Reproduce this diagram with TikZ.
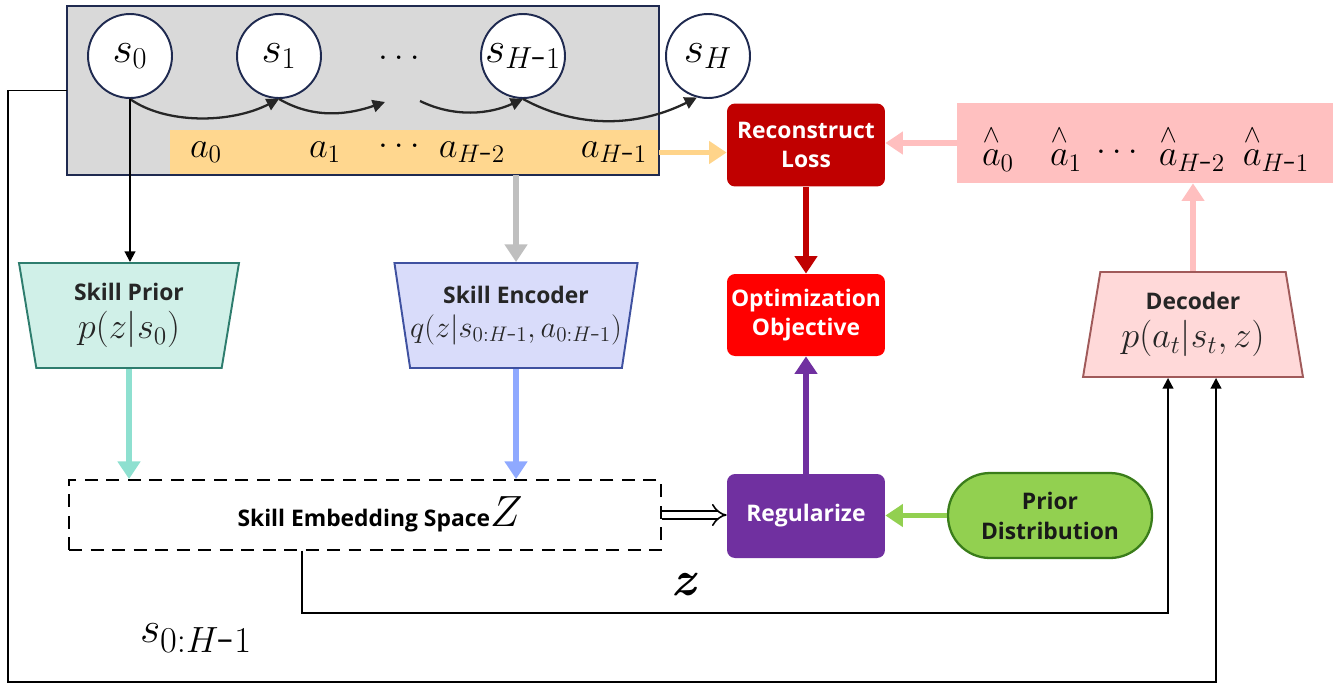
\documentclass[tikz,border=0pt]{standalone}
\usepackage{fontspec}
\setsansfont{Open Sans}
\usepackage{amsmath}
\usetikzlibrary{arrows.meta,shapes.geometric,calc}
\definecolor{navy}{HTML}{1F2A50}
\definecolor{grayfill}{HTML}{D9D9D9}
\definecolor{orng}{HTML}{FFD78F}
\definecolor{orngA}{HTML}{FFD48A}
\definecolor{rlred}{HTML}{C00000}
\definecolor{oored}{HTML}{FF0000}
\definecolor{purp}{HTML}{7030A0}
\definecolor{grn}{HTML}{92D050}
\definecolor{grnD}{HTML}{3A7D1A}
\definecolor{pinkbox}{HTML}{FFC0C0}
\definecolor{pinkA}{HTML}{FFBFBF}
\definecolor{decfill}{HTML}{FFD9D9}
\definecolor{decdraw}{HTML}{A05A5A}
\definecolor{spfill}{HTML}{D0F0E8}
\definecolor{spdraw}{HTML}{2E7D6E}
\definecolor{spA}{HTML}{8EE0D0}
\definecolor{sefill}{HTML}{D9DCFA}
\definecolor{sedraw}{HTML}{3F51A0}
\definecolor{seA}{HTML}{8FA9FF}
\definecolor{grayA}{HTML}{BFBFBF}
\definecolor{txt}{HTML}{262626}
\begin{document}
\begin{tikzpicture}[x=0.02cm,y=-0.02cm,
  lbl/.style={font=\sffamily\bfseries\fontsize{13}{17}\selectfont, align=center},
  stnode/.style={circle, draw=navy, line width=1.1pt, fill=white, minimum size=1.68cm, inner sep=0pt, font=\fontsize{26}{26}\selectfont},
  alab/.style={font=\fontsize{22}{22}\selectfont, inner sep=0pt},
  rbox/.style={inner sep=0pt, rounded corners=0.16cm, lbl, text=white, minimum width=3.16cm},
  trap/.style={trapezium, trapezium stretches body, trapezium left angle=75, trapezium right angle=75, minimum width=4.4cm, minimum height=2.1cm, line width=1.1pt, inner sep=0pt, align=center, text=txt},
  fat/.style={line width=3.4pt, -{Triangle[width=12.5pt,length=10pt]}},
  blk/.style={line width=1.1pt, -{Triangle[width=6pt,length=6pt]}},
  curv/.style={line width=1.3pt, draw=txt, -{Triangle[width=7pt,length=7pt]}}
]
\useasboundingbox (0,0) rectangle (1333,684);
% state box
\node[minimum width=11.84cm, minimum height=3.38cm, inner sep=0pt, fill=grayfill] (grayb) at (363,90.5) {};
\node[minimum width=9.78cm, minimum height=0.9cm, inner sep=0pt, fill=orng] (abar) at (414.5,152.5) {};
\draw[navy, line width=1.1pt] (grayb.north west) rectangle (grayb.south east);
\node[stnode] (s0) at (130,56) {$s_0$};
\node[stnode] (s1) at (279,56) {$s_1$};
\node[font=\fontsize{20}{20}\selectfont] (dt) at (402,58) {$\dots$};
\node[stnode] (sH1) at (523,56) {$s_{H\mbox{-}1}$};
\node[stnode] (sH) at (708,56) {$s_H$};
\coordinate (d1) at (385,102);
\coordinate (d2) at (420,101);
\draw[curv] (s0.south) .. controls (165,124) and (230,124) .. (s1.south);
\draw[curv] (s1.south) .. controls (315,120) and (350,114) .. (d1);
\draw[curv] (d2) .. controls (455,118) and (490,114) .. (sH1.south);
\draw[curv] (sH1.south) .. controls (580,130) and (640,126) .. (sH.255);
% actions
\node[alab] (a0) at (206,152) {$a_0$};
\node[alab] (a1) at (325,152) {$a_1$};
\node[alab] (ad) at (402,146) {$\dots$};
\node[alab] (aH2) at (472,152) {$a_{H\mbox{-}2}$};
\node[alab] (aH1) at (614,152) {$a_{H\mbox{-}1}$};
% right column
\node[rbox, fill=rlred, minimum height=1.66cm] (rl) at (806,145) {Reconstruct\\Loss};
\node[rbox, fill=oored, minimum height=1.64cm] (oo) at (806,315) {Optimization\\Objective};
\node[rbox, fill=purp, minimum height=1.68cm] (rg) at (806,516) {Regularize};
\node[inner sep=0pt, fill=grn, draw=grnD, line width=1.3pt, rounded corners=0.84cm, lbl, text=black!90, minimum width=4.08cm, minimum height=1.7cm] (pd) at (1050,515.5) {Prior\\Distribution};
\node[inner sep=0pt, fill=pinkbox, minimum width=7.52cm, minimum height=1.6cm] (ah) at (1145,143) {};
\node[alab] (h0) at (998,148) {$\overset{\wedge}{a}_0$};
\node[alab] (h1) at (1066,148) {$\overset{\wedge}{a}_1$};
\node[alab] (hd) at (1120,152) {$\dots$};
\node[alab] (hH2) at (1192,148) {$\overset{\wedge}{a}_{H\mbox{-}2}$};
\node[alab] (hH1) at (1276,148) {$\overset{\wedge}{a}_{H\mbox{-}1}$};
% trapezia
\node[trap, shape border rotate=180, fill=spfill, draw=spdraw] (sp) at (129,315.5)
  {{\sffamily\bfseries\fontsize{13}{17}\selectfont Skill Prior}\\[5pt]{\fontsize{20}{22}\selectfont $p(z|s_0)$}};
\node[trap, shape border rotate=180, fill=sefill, draw=sedraw] (se) at (516,315.5)
  {{\sffamily\bfseries\fontsize{13}{17}\selectfont Skill Encoder}\\[5pt]{\fontsize{16.5}{20}\selectfont $q(z|s_{0:H\mbox{-}1},a_{0:H\mbox{-}1})$}};
\node[trap, fill=decfill, draw=decdraw] (dec) at (1193,324.5)
  {{\sffamily\bfseries\fontsize{13}{17}\selectfont Decoder}\\[5pt]{\fontsize{20}{22}\selectfont $p(a_t|s_t,z)$}};
% embedding space
\node[minimum width=11.84cm, minimum height=1.4cm, inner sep=0pt, draw=black, line width=1.1pt, dash pattern=on 0.26cm off 0.17cm] (emb) at (365,515) {};
\node[anchor=base, inner sep=0pt] (embt) at (380,526) {{\sffamily\bfseries\fontsize{13}{17}\selectfont Skill Embedding Space}{\fontsize{28}{28}\selectfont$Z$}};
% labels
\node[inner sep=0pt] (zl) at (685,585) {\fontsize{28}{28}\selectfont\textbf{\textit{z}}};
\node[inner sep=0pt] (sl) at (196,638) {\fontsize{30}{30}\selectfont$s_{0:H\mbox{-}1}$};
\coordinate (zc) at (302,613);
\coordinate (sc) at (8,682);
% connectors
\draw[fat, orngA] (abar.east) -- (abar.east -| rl.west);
\draw[fat, pinkA] (ah.west) -- (ah.west -| rl.east);
\draw[fat, pinkA] (dec.north) -- (dec.north |- ah.south);
\draw[fat, rlred] (rl.south) -- (oo.north);
\draw[fat, purp] (rg.north) -- (oo.south);
\draw[fat, grn] (pd.west) -- (pd.west -| rg.east);
\draw[fat, grayA] (abar.south -| se.north) -- (se.north);
\draw[fat, spA] (sp.south) -- (sp.south |- emb.north);
\draw[fat, seA] (se.south) -- (se.south |- emb.north);
\draw[double, double distance=3.5pt, line width=0.9pt, -{Implies}] (emb.east) -- (emb.east -| rg.west);
\draw[blk] (s0.south) -- (s0.south |- sp.north);
\draw[blk] (emb.south -| zc) -- (zc) -| ($(dec.south)+(-25,0)$);
\draw[blk] (grayb.west) -| (sc) -| ($(dec.south)+(23,0)$);
\end{tikzpicture}
\end{document}
